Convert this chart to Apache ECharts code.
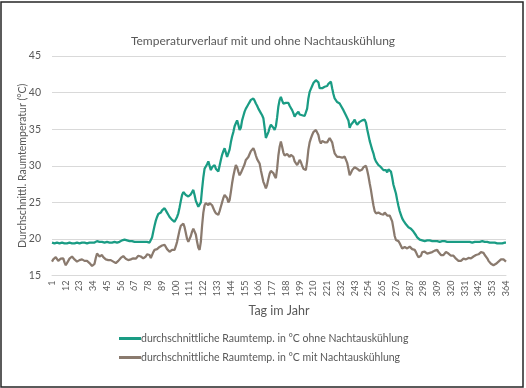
<!DOCTYPE html>
<html><head><meta charset="utf-8">
<script src="https://cdn.jsdelivr.net/npm/echarts@6/dist/echarts.min.js"></script>
<style>html,body{margin:0;padding:0;background:#fff}#c{width:526px;height:388px}</style>
</head><body><div id="c"></div>
<script>
const chartTitle = "Temperaturverlauf mit und ohne Nachtauskühlung";
const xTitle = "Tag im Jahr";
const yTitle = "Durchschnittl. Raumtemperatur (°C)";
const seriesNames = ["durchschnittliche Raumtemp. in °C ohne Nachtauskühlung", "durchschnittliche Raumtemp. in °C mit Nachtauskühlung"];
const yMin = 15, yMax = 45, yStep = 5;

const ohne = [
19.5,19.5,19.4,19.5,19.5,19.4,19.4,19.5,19.5,19.4,
19.4,19.4,19.4,19.5,19.5,19.5,19.4,19.4,19.4,19.5,
19.5,19.4,19.4,19.4,19.5,19.5,19.5,19.5,19.4,19.4,
19.5,19.5,19.5,19.5,19.5,19.6,19.7,19.6,19.6,19.6,
19.6,19.6,19.5,19.5,19.6,19.6,19.5,19.5,19.5,19.6,
19.6,19.5,19.5,19.6,19.6,19.7,19.8,20.0,19.9,19.8,
19.8,19.8,19.7,19.7,19.7,19.7,19.6,19.6,19.6,19.6,
19.6,19.6,19.6,19.6,19.6,19.5,19.6,19.6,19.5,19.6,
20.2,21.0,21.8,22.5,23.0,23.4,23.6,23.6,23.9,24.1,
24.2,23.9,23.6,23.3,23.0,22.8,22.6,22.5,22.35,22.6,
23.0,23.5,24.3,25.2,26.0,26.4,26.2,26.0,25.9,25.8,
25.8,26.1,26.4,26.7,26.0,25.2,24.8,24.4,24.5,25.0,
26.8,28.4,29.6,29.9,30.2,30.6,30.8,29.4,29.8,30.0,
30.1,29.6,29.4,29.2,30.0,30.8,31.5,32.0,32.4,31.8,
31.2,31.4,32.2,33.2,34.0,34.6,35.4,35.8,36.2,35.6,
34.9,35.2,36.2,36.8,37.4,37.8,38.1,38.4,38.7,39.0,
39.1,39.2,38.9,38.5,38.2,37.8,37.6,37.2,36.9,36.5,
35.2,33.8,34.0,34.6,35.2,35.6,35.4,35.2,34.9,35.4,
36.6,38.1,39.0,39.4,38.9,38.5,38.3,38.6,38.4,38.6,
38.2,37.9,37.6,37.2,36.7,37.0,37.2,37.4,37.0,36.8,
36.9,36.7,36.8,36.9,37.8,39.2,40.1,40.5,40.9,41.3,
41.5,41.7,41.9,41.4,40.6,40.4,40.6,40.7,40.8,40.6,
40.9,41.2,41.3,41.5,40.6,39.8,39.2,39.0,38.7,38.9,
38.5,38.2,38.3,37.6,37.4,36.9,36.7,36.2,35.2,35.6,
35.8,36.0,36.3,35.9,35.6,35.8,36.0,35.9,36.2,36.3,
36.3,35.9,35.0,34.2,33.4,32.8,32.2,31.7,31.0,30.6,
30.4,30.1,29.9,29.8,29.6,29.4,29.2,29.4,29.1,29.5,
29.6,29.2,28.4,27.4,26.8,26.2,25.3,24.5,23.8,23.3,
22.8,22.5,22.3,22.0,21.8,21.6,21.5,21.4,21.2,21.0,
20.8,20.5,20.2,20.0,19.9,19.8,19.8,19.8,19.7,19.8,
19.8,19.7,19.8,19.8,19.7,19.7,19.7,19.8,19.7,19.7,
19.6,19.7,19.7,19.6,19.7,19.7,19.6,19.6,19.6,19.6,
19.6,19.6,19.6,19.5,19.6,19.6,19.6,19.6,19.6,19.7,
19.6,19.6,19.6,19.6,19.6,19.6,19.5,19.5,19.6,19.6,
19.6,19.7,19.6,19.7,19.7,19.6,19.6,19.6,19.6,19.6,
19.5,19.5,19.5,19.5,19.5,19.4,19.4,19.4,19.4,19.4,
19.4,19.4,19.5,19.5
];

const mit = [
16.9,17.2,17.4,17.5,17.3,17.0,17.1,17.3,17.4,17.35,
16.8,16.4,16.6,17.0,17.3,17.4,17.6,17.5,17.2,17.0,
16.9,16.9,17.1,17.3,17.2,17.2,17.0,16.9,17.0,16.9,
16.7,16.5,16.3,16.2,16.6,17.4,18.0,17.8,17.6,17.6,
17.8,17.5,17.35,17.2,17.3,17.1,17.0,17.1,17.0,16.9,
16.8,16.7,16.8,17.0,17.2,17.4,17.6,17.65,17.5,17.3,
17.2,17.1,17.1,17.2,17.3,17.35,17.4,17.3,17.5,17.7,
17.8,17.6,17.4,17.35,17.4,17.6,17.9,18.0,17.8,17.4,
17.6,18.2,18.5,18.7,18.6,18.8,18.9,19.0,19.1,19.2,
19.2,19.0,18.6,18.4,18.25,18.3,18.5,18.4,18.5,19.0,
19.6,20.4,21.2,21.8,22.0,22.1,21.6,20.8,20.0,19.6,
19.8,20.4,21.0,21.4,21.45,20.6,19.6,18.8,18.5,19.6,
21.8,23.6,24.6,24.9,24.7,24.6,24.9,25.1,24.6,24.2,
23.8,23.5,23.4,23.3,23.8,24.4,25.0,25.6,26.0,26.0,
25.6,25.0,25.3,26.4,27.6,28.6,29.4,30.1,29.8,29.2,
28.7,29.0,29.4,29.65,30.2,30.8,31.0,31.2,31.6,32.0,
32.2,32.4,32.0,31.4,30.9,30.6,30.3,29.4,28.6,27.8,
27.4,26.9,27.4,28.2,28.9,29.3,29.4,29.0,28.6,28.3,
29.6,31.4,32.6,33.3,32.6,31.8,31.4,31.2,31.6,31.8,
31.2,31.5,31.7,31.2,30.6,30.4,30.1,30.4,30.8,30.5,
30.0,29.6,29.4,29.4,30.6,32.2,33.2,33.75,34.2,34.6,
34.8,34.9,34.7,34.2,33.4,33.05,33.4,33.6,33.2,33.0,
33.2,33.5,33.8,33.9,33.2,32.4,31.7,31.5,31.2,31.4,
31.2,31.0,31.1,31.3,31.25,31.2,30.4,29.6,28.7,29.0,
29.4,29.6,29.8,29.9,29.6,29.4,29.3,29.2,29.5,29.8,
30.0,30.0,29.4,28.6,27.6,26.7,25.6,24.6,23.8,23.5,
23.4,23.6,23.8,23.4,23.5,23.3,23.6,23.7,23.2,23.4,
23.2,23.0,22.4,21.4,20.4,19.85,19.85,19.7,19.4,19.2,
18.7,18.8,18.9,18.8,18.7,18.9,18.95,18.7,18.6,18.5,
18.5,18.2,17.8,17.5,17.35,17.7,18.2,18.3,18.25,18.1,
18.0,18.2,18.1,18.0,18.2,18.3,18.4,18.5,18.5,18.2,
18.0,17.8,17.6,17.8,18.0,18.2,18.25,18.0,17.8,17.7,
17.6,17.7,17.5,17.3,17.1,17.0,16.9,17.0,17.2,17.3,
17.35,17.2,17.3,17.4,17.3,17.35,17.5,17.6,17.7,17.8,
17.8,17.9,18.1,18.2,18.25,18.1,17.8,17.6,17.35,17.0,
16.8,16.6,16.5,16.4,16.5,16.6,16.8,16.9,17.0,17.2,
17.35,17.2,17.0,16.9
];

const days = [];
for (let i = 1; i <= ohne.length; i++) days.push(String(i));

const colors = ["#1a9c84", "#8a7a6e"];
const txt = "#595959";
const ff = "Lato, 'Open Sans', sans-serif";

const chart = echarts.init(document.getElementById('c'), null, {renderer: 'canvas'});
chart.setOption({
  animation: false,
  backgroundColor: '#fff',
  title: {
    text: chartTitle, left: 'center', top: 30,
    textStyle: {fontFamily: ff, fontSize: 12, fontWeight: 'normal', color: txt}
  },
  graphic: [{
    type: 'rect', silent: true, z: 100,
    shape: {x: 1, y: 2, width: 522, height: 385},
    style: {fill: 'none', stroke: '#262626', lineWidth: 1.5}
  }],
  legend: {
    orient: 'vertical', left: 114, top: 328, itemGap: 8,
    itemWidth: 22, itemHeight: 3, icon: 'rect',
    textStyle: {fontFamily: ff, fontSize: 10.5, color: txt, padding: [0,0,0,-5]},
    data: seriesNames
  },
  grid: {left: 52, right: 20, top: 56, bottom: 112.5, containLabel: false},
  xAxis: {
    type: 'category', data: days, boundaryGap: false,
    name: xTitle, nameLocation: 'middle', nameGap: 28,
    nameTextStyle: {fontFamily: ff, fontSize: 12.5, color: txt},
    axisLine: {lineStyle: {color: '#d9d9d9'}},
    axisTick: {show: false},
    axisLabel: {interval: 10, rotate: 90, fontFamily: ff, fontSize: 9, color: txt, margin: 5}
  },
  yAxis: {
    type: 'value', min: yMin, max: yMax, interval: yStep,
    name: yTitle, nameLocation: 'middle', nameGap: 24, nameMoveOverlap: false,
    nameTextStyle: {fontFamily: ff, fontSize: 10.5, color: txt},
    axisLine: {show: false}, axisTick: {show: false},
    axisLabel: {fontFamily: ff, fontSize: 10.5, color: txt, margin: 11},
    splitLine: {lineStyle: {color: '#d9d9d9'}}
  },
  series: [
    {name: seriesNames[0], type: 'line', data: ohne, showSymbol: false, symbol: 'none',
     lineStyle: {color: colors[0], width: 2.25}, itemStyle: {color: colors[0]}},
    {name: seriesNames[1], type: 'line', data: mit, showSymbol: false, symbol: 'none',
     lineStyle: {color: colors[1], width: 2.25}, itemStyle: {color: colors[1]}}
  ]
});
</script></body></html>
